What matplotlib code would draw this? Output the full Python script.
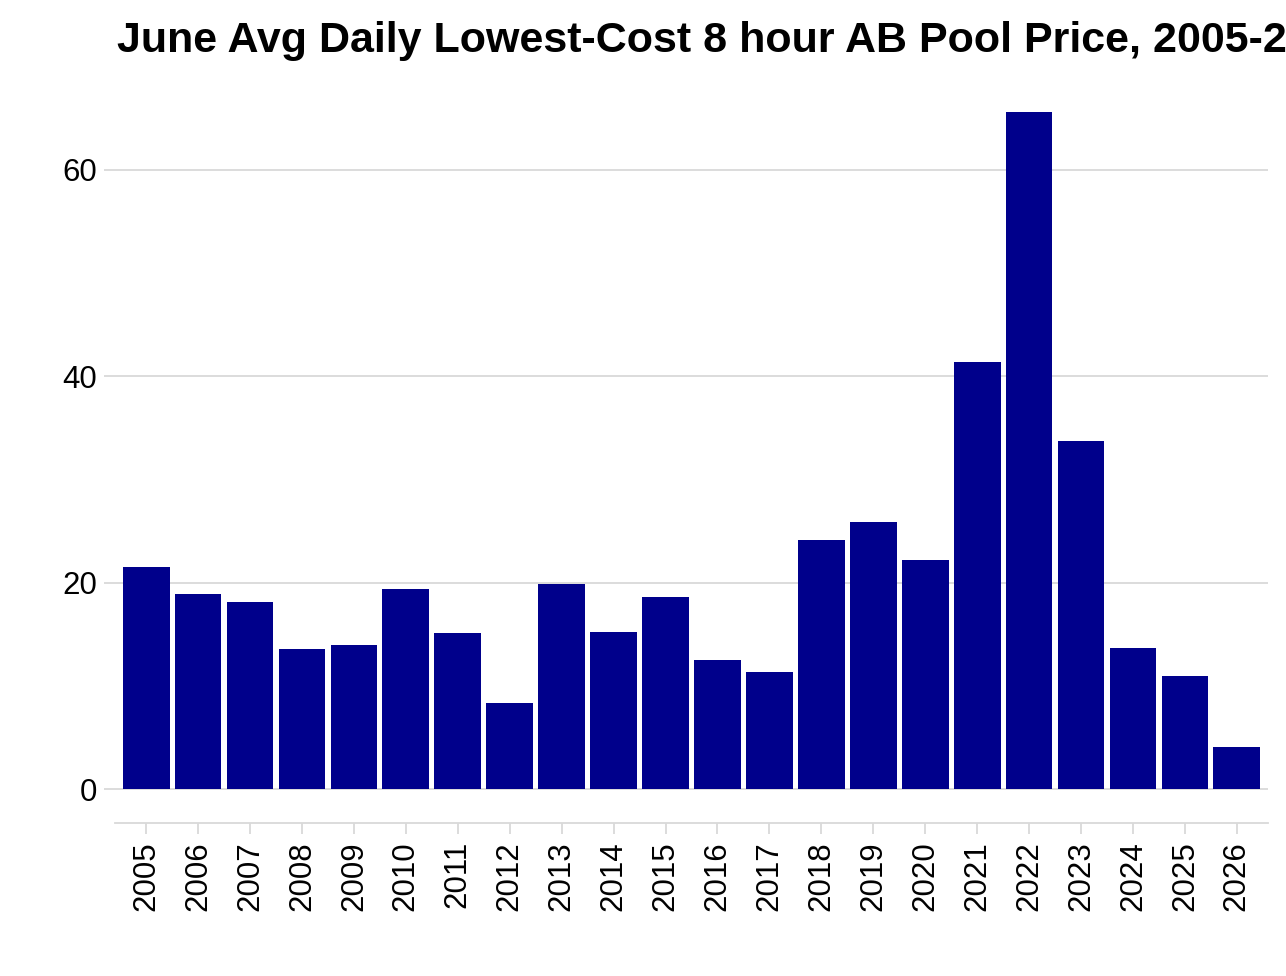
import matplotlib
matplotlib.use("Agg")
import matplotlib.pyplot as plt

years = [str(y) for y in range(2005, 2027)]
prices = [21.5, 18.9, 18.1, 13.6, 14.0, 19.4, 15.1, 8.3, 19.9, 15.2, 18.6,
          12.5, 11.3, 24.1, 25.9, 22.2, 41.4, 65.6, 33.7, 13.7, 11.0, 4.1]

plt.rcParams['font.family'] = ['Liberation Sans', 'DejaVu Sans']

fig = plt.figure(figsize=(12.86, 9.76), dpi=100)
ax = fig.add_axes([115 / 1286, 1 - 823 / 976, (1268 - 115) / 1286, (823 - 77.6) / 976])

x = range(len(years))
ax.bar(x, prices, width=0.9, color='#00008B', zorder=2)

ax.set_xlim(-0.6, len(years) - 0.4)
ax.set_ylim(-3.28, 68.9)
ax.set_yticks([0, 20, 40, 60])
ax.set_xticks(list(x))
ax.set_xticklabels(years, rotation=90)

ax.grid(axis='y', color='#D9D9D9', linewidth=1.3, zorder=0)
for side in ['top', 'right', 'left']:
    ax.spines[side].set_visible(False)
ax.spines['bottom'].set_color('#D9D9D9')
ax.spines['bottom'].set_linewidth(1.3)
ax.tick_params(axis='both', colors='#D9D9D9', labelcolor='black', labelsize=22.5,
               length=8, width=1.3)
ax.tick_params(axis='y', pad=5)
ax.tick_params(axis='x', pad=5)

# title runs past the right edge, as in the original
fig.text(117 / 1286, 1 - 52 / 976, "June Avg Daily Lowest-Cost 8 hour AB Pool Price, 2005-2026",
         fontsize=31, fontweight='bold', ha='left', va='baseline')

fig.savefig("out.png", dpi=100)
